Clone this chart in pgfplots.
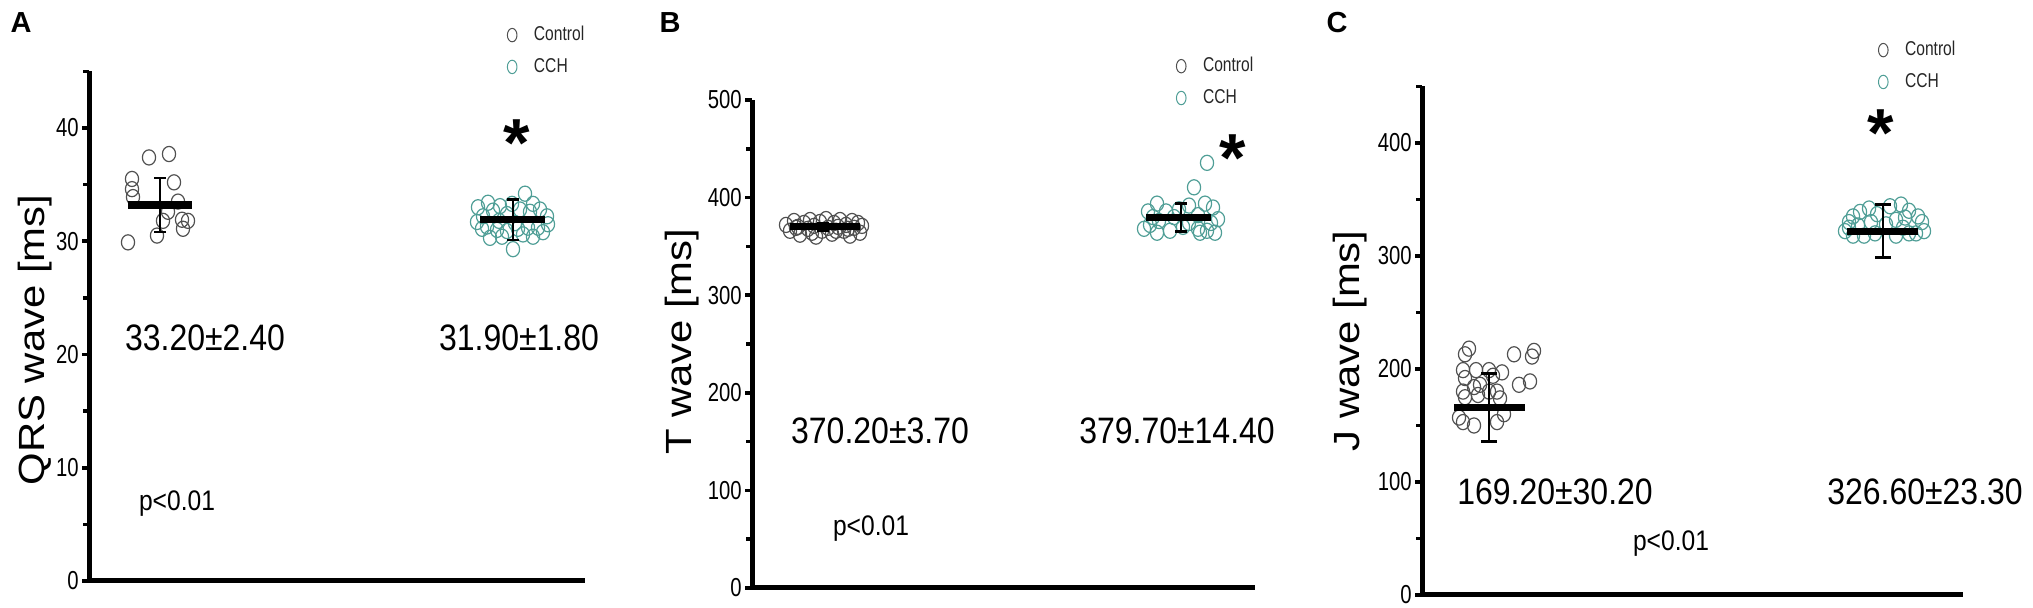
\documentclass[border=0pt]{standalone}
\usepackage{fontspec}
\setmainfont{Liberation Sans}
\newfontfamily\narrowfont[FakeStretch=0.78]{Liberation Sans}
\usepackage{graphicx}
\usepackage{pgfplots}
\pgfplotsset{compat=1.18}
\definecolor{cctrl}{RGB}{80,80,80}
\definecolor{ccch}{RGB}{79,158,150}

\pgfplotsset{
  panel/.style={
    axis lines=left,
    axis line style={-, line width=2.5pt, black},
    every outer x axis line/.append style={-, line width=2.5pt, black},
    every outer y axis line/.append style={-, line width=2.5pt, black},
    every inner x axis line/.append style={-, line width=2.5pt, black},
    every inner y axis line/.append style={-, line width=2.5pt, black},
    xtick=\empty,
    tick align=outside,
    major tick length=3.5pt, minor tick length=3pt,
    tick style={black, line width=1.8pt},
    yticklabel style={font=\narrowfont\fontsize{13}{13}\selectfont, /pgf/number format/assume math mode=true, inner sep=1.5pt},
    ylabel style={font=\fontsize{18.2}{18.2}\selectfont, anchor=center},
    clip=false,
    clip marker paths=true,
    legend style={draw=none, fill=none, inner sep=0pt, anchor=north west,
      font=\narrowfont\fontsize{10}{10}\selectfont, text=black!85,
      row sep=7.3pt, column sep=8.5pt, nodes={inner sep=0pt}},
    legend cell align=left,
  },
  ctrl/.style={only marks, mark=o, mark size=3.3pt,
    mark options={draw=cctrl, line width=0.6pt, yscale=1.15},
    legend image code/.code={\draw[##1, mark size=2.4pt, mark options={draw=cctrl, line width=0.5pt, yscale=1.4}] plot coordinates {(0pt,0pt)};}},
  cch/.style={only marks, mark=o, mark size=3.3pt,
    mark options={draw=ccch, line width=0.6pt, yscale=1.15},
    legend image code/.code={\draw[##1, mark size=2.4pt, mark options={draw=ccch, line width=0.5pt, yscale=1.4}] plot coordinates {(0pt,0pt)};}},
  meanbar/.style={forget plot, black, line width=3.6pt},
  errbar/.style={forget plot, mark=none, draw=none,
    error bars/.cd, y dir=both, y explicit,
    error bar style={line width=1pt, draw=black},
    error mark options={rotate=90, mark size=#1, line width=1.3pt, draw=black}},
}

\begin{document}
\begin{tikzpicture}
\useasboundingbox (0,0) rectangle (1016.5pt,304pt);

% ---------------- Panel A ----------------
\begin{axis}[panel, at={(44.5pt,13.5pt)}, anchor=south west,
  x=0.5pt, y=5.6625pt, xmin=0, xmax=496, ymin=0, ymax=45,
  ytick={0,10,20,30,40}, minor ytick={5,15,25,35,45},
  ylabel={\scalebox{1.15}[1]{QRS wave [ms]}},
  ylabel style={at={(axis description cs:-0.109,0.473)}},
  legend style={at={(axis description cs:0.8427,1.0891)}}]
\addplot[ctrl] coordinates {(60,37.4)(80,37.7)(43,35.5)(43,34.6)(44,33.9)(85,35.2)(89,33.5)(79,32.6)(74,31.8)(93,31.9)(99,31.8)(94,31.1)(68,30.5)(39,29.9)};
\addlegendentry{Control}
\addplot[cch] coordinates {(436,34.2)(424,29.3)(389,33.0)(399,33.4)(411,33.1)(423,33.3)(444,33.3)(451,32.8)(458,32.2)(459,31.5)(454,30.8)(444,30.4)(434,30.6)(413,30.4)(401,30.3)(393,31.1)(388,31.7)(398,31.3)(408,31.0)(418,30.9)(429,31.1)(439,31.2)(449,31.2)(404,32.7)(431,32.8)(441,32.6)(394,32.2)(418,32.4)(426,31.6)(410,31.8)};
\addlegendentry{CCH}
\addplot[meanbar] coordinates {(39,33.2)(103,33.2)};
\addplot[meanbar] coordinates {(391,31.9)(456,31.9)};
\addplot[errbar=3pt] coordinates {(71,33.2) +- (0,2.4)};
\addplot[errbar=3pt] coordinates {(424,31.9) +- (0,1.8)};
\end{axis}

% ---------------- Panel B ----------------
\begin{axis}[panel, at={(376pt,10pt)}, anchor=south west,
  x=0.5pt, y=0.488pt, xmin=0, xmax=503, ymin=0, ymax=500,
  ytick={0,100,200,300,400,500}, minor ytick={50,150,250,350,450},
  ylabel={\scalebox{1.15}[1]{T wave [ms]}},
  ylabel style={at={(axis description cs:-0.139,0.504)}},
  legend style={at={(axis description cs:0.843,1.088)}}]
\addplot[ctrl] coordinates {(34,372)(38,366)(42,376)(46,370)(48,362)(52,374)(56,368)(58,377)(62,371)(64,360)(68,375)(70,366)(74,378)(76,369)(80,363)(82,374)(86,370)(88,377)(92,366)(94,372)(98,361)(100,376)(102,369)(106,374)(108,364)(110,371)(44,369)(60,364)(84,366)(96,368)};
\addlegendentry{Control}
\addplot[cch] coordinates {(455,435.6)(442,410.5)(405,393.8)(396,385.8)(414,385.8)(437,391.8)(453,393.8)(461,389.8)(466,377.9)(463,364)(398,372)(405,364)(418,366)(431,370)(446,368)(455,366)(422,380)(446,382)(459,374)(407,376)(437,374)(427,388)(401,380)(448,364)(392,368)};
\addlegendentry{CCH}
\addplot[meanbar] coordinates {(38,370.2)(108,370.2)};
\addplot[meanbar] coordinates {(394,379.7)(459,379.7)};
\addplot[errbar=3pt] coordinates {(71,370.2) +- (0,3.7)};
\addplot[errbar=3pt] coordinates {(429,379.7) +- (0,14.4)};
\end{axis}

% ---------------- Panel C ----------------
\begin{axis}[panel, at={(711pt,6.5pt)}, anchor=south west,
  x=0.5pt, y=0.565pt, xmin=0, xmax=541, ymin=0, ymax=450,
  ytick={0,100,200,300,400}, minor ytick={50,150,250,350,450},
  ylabel={\scalebox{1.15}[1]{J wave [ms]}},
  ylabel style={at={(axis description cs:-0.133,0.4995)}},
  legend style={at={(axis description cs:0.843,1.0895)}}]
\addplot[ctrl] coordinates {(47,218)(43,213)(41,199)(43,192)(54,199)(67,199)(80,197)(92,213)(112,216)(110,211)(108,189)(97,186)(58,186)(52,184)(41,180)(43,175)(67,180)(75,180)(78,174)(82,160)(41,153)(52,150)(75,153)(37,157)(56,177)(71,194)};
\addlegendentry{Control}
\addplot[cch] coordinates {(427,330)(431,335)(438,339)(447,342)(455,337)(468,344)(479,345.5)(487,340)(496,335)(500,330)(502,322)(423,322)(431,318)(442,318)(453,320)(474,318)(487,320)(494,320)(464,328)(474,332)(483,334)(449,330)(436,327)(427,325)(481,325)};
\addlegendentry{CCH}
\addplot[meanbar] coordinates {(32,166)(103,166)};
\addplot[meanbar] coordinates {(425,322)(496,322)};
\addplot[errbar=4pt] coordinates {(67,166) +- (0,30.2)};
\addplot[errbar=4pt] coordinates {(461,322) +- (0,23.3)};
\end{axis}

% ---------------- Annotations ----------------
\begin{scope}[every node/.style={inner sep=0pt}]
\node[anchor=center, font=\bfseries\fontsize{14.5}{14.5}\selectfont] at (10.5pt,292.5pt) {A};
\node[anchor=center, font=\bfseries\fontsize{14.5}{14.5}\selectfont] at (335pt,292.5pt) {B};
\node[anchor=center, font=\bfseries\fontsize{14.5}{14.5}\selectfont] at (668.5pt,292.5pt) {C};

\begin{scope}[every node/.append style={anchor=base, font=\fontsize{16}{16}\selectfont}]
\node at (102.5pt,128.5pt) {\scalebox{1}[1.15]{33.20±2.40}};
\node at (259.5pt,128.5pt) {\scalebox{1}[1.15]{31.90±1.80}};
\node at (440pt,82pt) {\scalebox{1}[1.15]{370.20±3.70}};
\node at (588.5pt,82pt) {\scalebox{1}[1.15]{379.70±14.40}};
\node at (777.5pt,51.5pt) {\scalebox{1}[1.15]{169.20±30.20}};
\node at (962.5pt,51.5pt) {\scalebox{1}[1.15]{326.60±23.30}};
\end{scope}

\begin{scope}[every node/.append style={anchor=base, font=\fontsize{12.3}{12.3}\selectfont}]
\node at (88.5pt,48.5pt) {\scalebox{1}[1.15]{p<0.01}};
\node at (435.5pt,36pt) {\scalebox{1}[1.15]{p<0.01}};
\node at (835.5pt,28.5pt) {\scalebox{1}[1.15]{p<0.01}};
\end{scope}

\begin{scope}[every node/.append style={anchor=base, font=\bfseries\fontsize{34}{34}\selectfont}]
\node at (258.5pt,220.6pt) {*};
\node at (616.5pt,213.1pt) {*};
\node at (940.5pt,225.6pt) {*};
\end{scope}
\end{scope}
\end{tikzpicture}
\end{document}
